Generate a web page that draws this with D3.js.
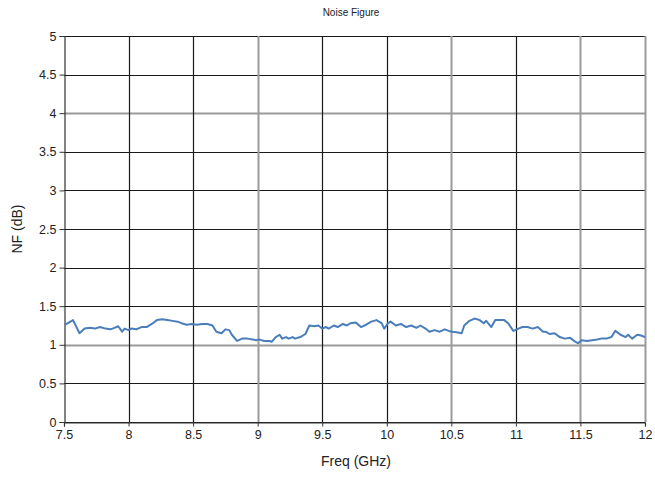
<!DOCTYPE html>
<html>
<head>
<meta charset="utf-8">
<script src="https://cdn.jsdelivr.net/npm/d3@7/dist/d3.min.js"></script>
<style>
  html, body { margin: 0; padding: 0; background: #fff; }
  svg { display: block; font-family: "Liberation Sans", Arial, sans-serif; }
</style>
</head>
<body>
<svg id="chart" width="655" height="477"></svg>
<script>
// Measured noise figure across the band
const freqGHz = [
  7.51, 7.57, 7.62, 7.66, 7.70, 7.74, 7.78, 7.82, 7.86, 7.89, 7.92, 7.95, 7.97, 8.00,
  8.02, 8.06, 8.10, 8.14, 8.18, 8.22, 8.26, 8.30, 8.34, 8.38, 8.41, 8.45, 8.49, 8.53,
  8.57, 8.61, 8.65, 8.68, 8.72, 8.75, 8.78, 8.80, 8.84, 8.88, 8.92, 8.96, 8.99, 9.01,
  9.05, 9.09, 9.11, 9.14, 9.17, 9.19, 9.22, 9.24, 9.27, 9.29, 9.33, 9.37, 9.40, 9.44,
  9.47, 9.50, 9.53, 9.55, 9.59, 9.62, 9.66, 9.69, 9.72, 9.76, 9.80, 9.84, 9.88, 9.92,
  9.96, 9.98, 10.01, 10.03, 10.07, 10.11, 10.15, 10.19, 10.23, 10.26, 10.30, 10.33,
  10.37, 10.41, 10.45, 10.48, 10.51, 10.55, 10.58, 10.60, 10.64, 10.68, 10.72, 10.75,
  10.77, 10.81, 10.84, 10.87, 10.91, 10.94, 10.98, 11.02, 11.05, 11.09, 11.13, 11.17,
  11.21, 11.23, 11.26, 11.30, 11.34, 11.38, 11.42, 11.46, 11.48, 11.51, 11.55, 11.59,
  11.63, 11.66, 11.70, 11.74, 11.77, 11.81, 11.85, 11.87, 11.90, 11.94, 11.97, 12.00
];
const nfDb = [
  1.26, 1.32, 1.15, 1.21, 1.22, 1.21, 1.23, 1.21, 1.20, 1.22, 1.24, 1.17, 1.21, 1.19,
  1.21, 1.20, 1.23, 1.23, 1.27, 1.32, 1.33, 1.32, 1.31, 1.30, 1.28, 1.26, 1.27, 1.26,
  1.27, 1.27, 1.25, 1.17, 1.15, 1.20, 1.19, 1.13, 1.05, 1.08, 1.08, 1.07, 1.06, 1.07,
  1.05, 1.05, 1.04, 1.10, 1.13, 1.08, 1.10, 1.08, 1.10, 1.08, 1.10, 1.14, 1.25, 1.24,
  1.25, 1.21, 1.23, 1.21, 1.25, 1.23, 1.27, 1.25, 1.28, 1.29, 1.23, 1.26, 1.30, 1.32,
  1.28, 1.21, 1.28, 1.30, 1.25, 1.27, 1.23, 1.25, 1.22, 1.25, 1.21, 1.17,
  1.19, 1.17, 1.20, 1.18, 1.17, 1.16, 1.15, 1.25, 1.31, 1.34, 1.32, 1.28,
  1.31, 1.23, 1.32, 1.32, 1.32, 1.28, 1.18, 1.21, 1.23, 1.23, 1.21, 1.23,
  1.17, 1.17, 1.14, 1.15, 1.10, 1.08, 1.09, 1.04, 1.02, 1.06, 1.05, 1.06,
  1.07, 1.08, 1.08, 1.10, 1.18, 1.13, 1.10, 1.13, 1.08, 1.13, 1.12, 1.10
];
const xTicks = [7.5, 8, 8.5, 9, 9.5, 10, 10.5, 11, 11.5, 12];
const yTicks = [0, 0.5, 1, 1.5, 2, 2.5, 3, 3.5, 4, 4.5, 5];
// gridlines drawn in the lighter, heavier grey
const xGreyLines = [9, 10.5, 11.5, 12];
const yGreyLines = [1, 4];

const svg = d3.select("#chart");
const plotLeft = 64, plotRight = 645, plotTop = 36, plotBottom = 422;

const x = d3.scaleLinear().domain([7.5, 12]).range([plotLeft, plotRight]);
const y = d3.scaleLinear().domain([0, 5]).range([plotBottom, plotTop]);

// Title
svg.append("text")
  .attr("x", 351).attr("y", 16)
  .attr("text-anchor", "middle")
  .attr("font-size", 10).attr("fill", "#222")
  .text("Noise Figure");

// Gridlines
const grid = svg.append("g");
grid.selectAll("line.h").data(yTicks).join("line")
  .attr("class", "h")
  .attr("x1", plotLeft).attr("x2", plotRight)
  .attr("y1", d => Math.round(y(d)) + 0.5).attr("y2", d => Math.round(y(d)) + 0.5)
  .attr("stroke", d => yGreyLines.includes(d) ? "#9a9a9a" : "#1a1a1a")
  .attr("stroke-width", d => yGreyLines.includes(d) ? 2 : 1.2);
grid.selectAll("line.v").data(xTicks.filter(d => d > 7.5)).join("line")
  .attr("class", "v")
  .attr("y1", plotTop).attr("y2", plotBottom)
  .attr("x1", d => Math.round(x(d)) + 0.5).attr("x2", d => Math.round(x(d)) + 0.5)
  .attr("stroke", d => xGreyLines.includes(d) ? "#9a9a9a" : "#1a1a1a")
  .attr("stroke-width", d => xGreyLines.includes(d) ? 2 : 1.2);

// Axes
const yAxis = d3.axisLeft(y).tickValues(yTicks).tickSize(5).tickPadding(3)
  .tickFormat(d3.format("~g"));
const xAxis = d3.axisBottom(x).tickValues(xTicks).tickSize(4).tickPadding(4)
  .tickFormat(d3.format("~g"));

const gy = svg.append("g").attr("transform", `translate(${plotLeft + 0.5},0)`).call(yAxis);
const gx = svg.append("g").attr("transform", `translate(0,${plotBottom + 0.5})`).call(xAxis);
[gx, gy].forEach(g => {
  g.select(".domain").attr("stroke", "#333").attr("stroke-width", 1.2);
  g.selectAll(".tick line").attr("stroke", "#333");
  g.selectAll(".tick text").attr("font-size", 12.5).attr("fill", "#222")
    .attr("font-family", "'Liberation Sans', Arial, sans-serif");
});

// Axis titles
svg.append("text")
  .attr("x", 356).attr("y", 466)
  .attr("text-anchor", "middle")
  .attr("font-size", 14).attr("fill", "#222")
  .text("Freq (GHz)");
svg.append("text")
  .attr("transform", `translate(22,${(plotTop + plotBottom) / 2}) rotate(-90)`)
  .attr("text-anchor", "middle")
  .attr("font-size", 14).attr("fill", "#222")
  .text("NF (dB)");

// NF trace
const pts = freqGHz.map((f, i) => [f, nfDb[i]]);
svg.append("path")
  .datum(pts)
  .attr("fill", "none")
  .attr("stroke", "#4a7ebb")
  .attr("stroke-width", 2)
  .attr("stroke-linejoin", "round")
  .attr("d", d3.line().x(d => x(d[0])).y(d => y(d[1])));
</script>
</body>
</html>
